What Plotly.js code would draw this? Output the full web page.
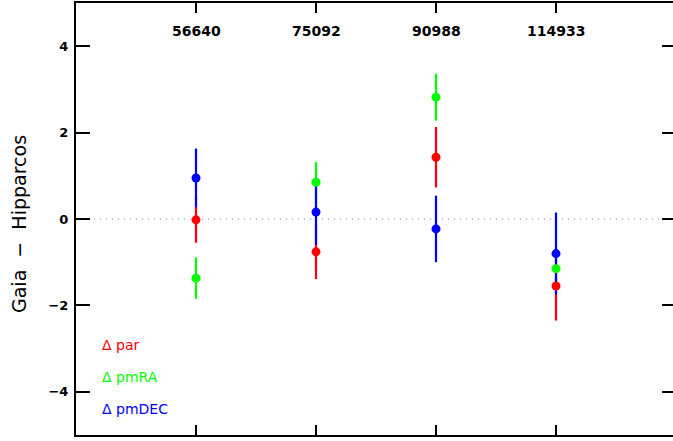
<!DOCTYPE html>
<html>
<head>
<meta charset="utf-8">
<script src="https://cdn.plot.ly/plotly-3.0.1.min.js"></script>
<style>
html,body{margin:0;padding:0;overflow:hidden;background:#fff;}
#chart{width:700px;height:441px;}
</style>
</head>
<body>
<div id="chart"></div>
<script>
// Star identifiers (Hipparcos numbers)
const stars = ['56640', '75092', '90988', '114933'];
// Gaia - Hipparcos differences and their uncertainties
const parVals   = [-0.02, -0.76, 1.43, -1.55];
const parErr    = [0.53, 0.63, 0.70, 0.80];
const pmRAVals  = [-1.37, 0.85, 2.82, -1.15];
const pmRAErr   = [0.48, 0.47, 0.54, 0.40];
const pmDECVals = [0.95, 0.16, -0.23, -0.80];
const pmDECErr  = [0.68, 0.76, 0.77, 0.95];
const seriesNames = ['\u0394 par', '\u0394 pmRA', '\u0394 pmDEC'];
const seriesColors = ['#ff0000', '#00ff00', '#0000ff'];
const yTicks = [-4, -2, 0, 2, 4];

const xs = stars.map((_, i) => i + 1);
const vals = [parVals, pmRAVals, pmDECVals];
const errs = [parErr, pmRAErr, pmDECErr];

const traces = [];
// error bars first (all series), then markers on top
vals.forEach((v, k) => {
  traces.push({
    type: 'scatter', mode: 'markers', x: xs, y: v,
    marker: {size: 1, color: 'rgba(0,0,0,0)'},
    error_y: {type: 'data', array: errs[k], visible: true, color: seriesColors[k], thickness: 2.2, width: 0},
    hoverinfo: 'skip', showlegend: false
  });
});
vals.forEach((v, k) => {
  traces.push({
    type: 'scatter', mode: 'markers', x: xs, y: v, name: seriesNames[k],
    marker: {size: 9, color: seriesColors[k]},
    showlegend: false
  });
});

const annotations = [];
stars.forEach((s, i) => {
  annotations.push({
    x: xs[i], xref: 'x', y: 1, yref: 'paper', yshift: -28,
    text: s, showarrow: false, xanchor: 'center', yanchor: 'middle',
    font: {family: 'DejaVu Sans', size: 14, color: '#000', weight: 600}
  });
});
const legendY = [345, 377, 409];
seriesNames.forEach((n, k) => {
  annotations.push({
    x: (100 - 76) / 600, xref: 'paper', y: 1 - (legendY[k] - 3) / 432, yref: 'paper',
    text: n, showarrow: false, xanchor: 'left', yanchor: 'middle',
    font: {family: 'DejaVu Sans', size: 14, color: seriesColors[k]}
  });
});
annotations.push({
  x: (19 - 76) / 600, xref: 'paper', y: 1 - (224 - 3) / 432, yref: 'paper',
  text: 'Gaia\u00a0\u00a0\u2212\u00a0\u00a0Hipparcos', textangle: -90, showarrow: false,
  xanchor: 'center', yanchor: 'middle',
  font: {family: 'DejaVu Sans', size: 19, color: '#000'}
});

const layout = {
  width: 700, height: 441,
  margin: {l: 76, r: 24, t: 3, b: 6},
  paper_bgcolor: '#fff', plot_bgcolor: '#fff',
  showlegend: false,
  xaxis: {
    range: [0, 5], tickvals: xs, showticklabels: false,
    ticks: 'inside', ticklen: 10, tickwidth: 2, tickcolor: '#000',
    showline: true, linewidth: 2, linecolor: '#000', mirror: 'ticks',
    showgrid: false, zeroline: false
  },
  yaxis: {
    range: [-5, 5], tickvals: yTicks,
    ticks: 'inside', ticklen: 14, tickwidth: 2, tickcolor: '#000',
    showline: true, linewidth: 2, linecolor: '#000', mirror: 'ticks',
    showgrid: false, zeroline: false,
    tickfont: {family: 'DejaVu Sans', size: 13, color: '#000', weight: 600},
    ticklabelstandoff: 3
  },
  shapes: [{
    type: 'line', xref: 'paper', x0: 0, x1: 1, yref: 'y', y0: 0, y1: 0,
    line: {color: '#888', width: 1, dash: '1px,5px'}, layer: 'below'
  }],
  annotations: annotations
};

Plotly.newPlot('chart', traces, layout, {displayModeBar: false, staticPlot: true});
</script>
</body>
</html>
